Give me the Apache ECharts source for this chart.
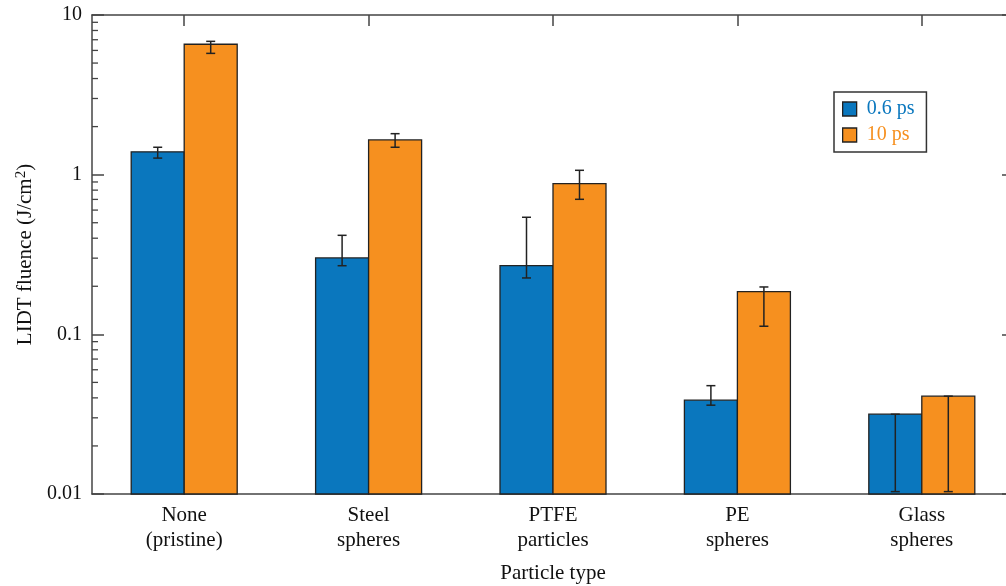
<!DOCTYPE html>
<html>
<head>
<meta charset="utf-8">
<script src="https://cdn.jsdelivr.net/npm/echarts@6/dist/echarts.min.js"></script>
<style>html,body{margin:0;padding:0;background:#fff;}#wrap{width:1006px;height:586px;overflow:hidden;position:relative;}#c{position:absolute;left:0;top:0;width:1015px;height:586px;}</style>
</head>
<body>
<div id="wrap"><div id="c"></div></div>
<script>
const categories = ['None\n(pristine)', 'Steel\nspheres', 'PTFE\nparticles', 'PE\nspheres', 'Glass\nspheres'];
const seriesNames = ['0.6 ps', '10 ps'];
const lidt06 = [1.39, 0.301, 0.269, 0.0387, 0.0316];
const lidt10 = [6.56, 1.65, 0.878, 0.185, 0.041];
const errLow06 = [1.27, 0.269, 0.2255, 0.036, 0.01035];
const errHigh06 = [1.485, 0.417, 0.541, 0.0477, 0.0316];
const errLow10 = [5.75, 1.485, 0.701, 0.1124, 0.01035];
const errHigh10 = [6.84, 1.806, 1.065, 0.198, 0.041];
const yTicks = [0.01, 0.1, 1, 10];
const minorTickValues = [0.02,0.03,0.04,0.05,0.06,0.07,0.08,0.09,0.2,0.3,0.4,0.5,0.6,0.7,0.8,0.9,2,3,4,5,6,7,8,9];

const BLUE = '#0A77BE';
const ORANGE = '#F6901F';
const INK = '#222';
const FONT = '"Liberation Serif", "DejaVu Serif", serif';
const BAR_W = 53;

function barItem(offset, color) {
  return function (params, api) {
    const i = api.value(0);
    const top = api.coord([i, api.value(1)]);
    const cs = params.coordSys;
    const bottom = cs.y + cs.height;
    const xc = top[0] + offset;
    return {
      type: 'rect',
      shape: { x: xc - BAR_W / 2, y: top[1], width: BAR_W, height: bottom - top[1] },
      style: { fill: color, stroke: INK, lineWidth: 1.3 }
    };
  };
}

function errItem(offset) {
  return function (params, api) {
    const i = api.value(0);
    const p0 = api.coord([i, api.value(1)]);
    const p1 = api.coord([i, api.value(2)]);
    const x = p0[0] + offset;
    const cap = 4.5;
    const style = { stroke: INK, lineWidth: 1.5 };
    return {
      type: 'group',
      children: [
        { type: 'line', shape: { x1: x, y1: p0[1], x2: x, y2: p1[1] }, style },
        { type: 'line', shape: { x1: x - cap, y1: p0[1], x2: x + cap, y2: p0[1] }, style },
        { type: 'line', shape: { x1: x - cap, y1: p1[1], x2: x + cap, y2: p1[1] }, style }
      ]
    };
  };
}

const chart = echarts.init(document.getElementById('c'), null, { renderer: 'canvas', width: 1015, height: 586 });
chart.setOption({
  animation: false,
  backgroundColor: '#fff',
  textStyle: { fontFamily: FONT },
  grid: { left: 92, right: 1, top: 15, bottom: 92, outerBoundsMode: 'none', containLabel: false },
  legend: {
    data: [
      { name: seriesNames[0], textStyle: { color: BLUE }, itemStyle: { color: BLUE, borderColor: INK, borderWidth: 1.3 } },
      { name: seriesNames[1], textStyle: { color: ORANGE }, itemStyle: { color: ORANGE, borderColor: INK, borderWidth: 1.3 } }
    ],
    orient: 'vertical',
    left: 834,
    top: 92,
    padding: [7, 12, 7, 8],
    itemGap: 6,
    itemWidth: 14,
    itemHeight: 14,
    borderColor: '#333',
    borderWidth: 1.5,
    borderRadius: 0,
    icon: 'rect',
    textStyle: { fontFamily: FONT, fontSize: 20, padding: [0, 0, 0, 5] }
  },
  xAxis: [
    {
      type: 'category',
      data: categories,
      position: 'bottom',
      name: 'Particle type',
      nameLocation: 'middle',
      nameGap: 69,
      nameTextStyle: { fontFamily: FONT, fontSize: 21, color: '#111' },
      axisLine: { lineStyle: { color: '#444', width: 1.5 } },
      axisTick: { show: false },
      axisLabel: { fontFamily: FONT, fontSize: 21, color: '#111', lineHeight: 25, margin: 9 }
    },
    {
      type: 'category',
      data: categories,
      position: 'top',
      axisLine: { lineStyle: { color: '#444', width: 1.5 } },
      axisTick: { show: true, inside: true, alignWithLabel: true, length: 11, lineStyle: { color: '#444', width: 1.5 } },
      axisLabel: { show: false }
    }
  ],
  yAxis: [
    {
      type: 'log',
      logBase: 10,
      min: 0.01,
      max: 10,
      position: 'left',
      name: 'LIDT fluence (J/cm{sup|2})',
      nameLocation: 'middle',
      nameGap: 54,
      nameRotate: 90,
      nameTextStyle: {
        fontFamily: FONT, fontSize: 21, color: '#111',
        rich: { sup: { fontFamily: FONT, fontSize: 15, verticalAlign: 'top', padding: [0, 0, 9, 0], color: '#111' } }
      },
      axisLine: { show: true, lineStyle: { color: '#444', width: 1.5 } },
      axisTick: { show: true, inside: true, length: 12, lineStyle: { color: '#444', width: 1.5 } },
      axisLabel: {
        fontFamily: FONT, fontSize: 20, color: '#111', margin: 10, padding: [4, 0, 0, 0],
        formatter: function (v) {
          for (const t of yTicks) { if (Math.abs(v - t) / t < 1e-6) return String(t); }
          return '';
        }
      },
      splitLine: { show: false }
    },
    {
      type: 'log',
      logBase: 10,
      min: 0.01,
      max: 10,
      position: 'right',
      axisLine: { show: true, lineStyle: { color: '#444', width: 1.5 } },
      axisTick: { show: true, inside: true, length: 12, lineStyle: { color: '#444', width: 1.5 } },
      axisLabel: { show: false },
      splitLine: { show: false }
    }
  ],
  series: [
    {
      name: seriesNames[0], type: 'custom', renderItem: barItem(-BAR_W / 2, BLUE), z: 2,
      itemStyle: { color: BLUE, borderColor: INK, borderWidth: 1.3 },
      encode: { x: 0, y: 1 },
      data: categories.map((c, i) => [i, lidt06[i]])
    },
    {
      name: seriesNames[1], type: 'custom', renderItem: barItem(BAR_W / 2, ORANGE), z: 2,
      itemStyle: { color: ORANGE, borderColor: INK, borderWidth: 1.3 },
      encode: { x: 0, y: 1 },
      data: categories.map((c, i) => [i, lidt10[i]])
    },
    {
      name: 'err06', type: 'custom', renderItem: errItem(-BAR_W / 2), z: 5,
      encode: { x: 0, y: [1, 2] },
      data: categories.map((c, i) => [i, errLow06[i], errHigh06[i]])
    },
    {
      name: 'err10', type: 'custom', renderItem: errItem(BAR_W / 2), z: 5,
      encode: { x: 0, y: [1, 2] },
      data: categories.map((c, i) => [i, errLow10[i], errHigh10[i]])
    },
    {
      name: 'minorTicks', type: 'custom', z: 6, silent: true,
      encode: { x: 0, y: 1 },
      renderItem: function (params, api) {
        const p = api.coord([0, api.value(1)]);
        const cs = params.coordSys;
        const style = { stroke: '#444', lineWidth: 1.3 };
        return {
          type: 'group',
          children: [
            { type: 'line', shape: { x1: cs.x, y1: p[1], x2: cs.x + 6, y2: p[1] }, style },
            { type: 'line', shape: { x1: cs.x + cs.width - 6, y1: p[1], x2: cs.x + cs.width, y2: p[1] }, style }
          ]
        };
      },
      data: minorTickValues.map(v => [0, v])
    }
  ]
});
</script>
</body>
</html>
